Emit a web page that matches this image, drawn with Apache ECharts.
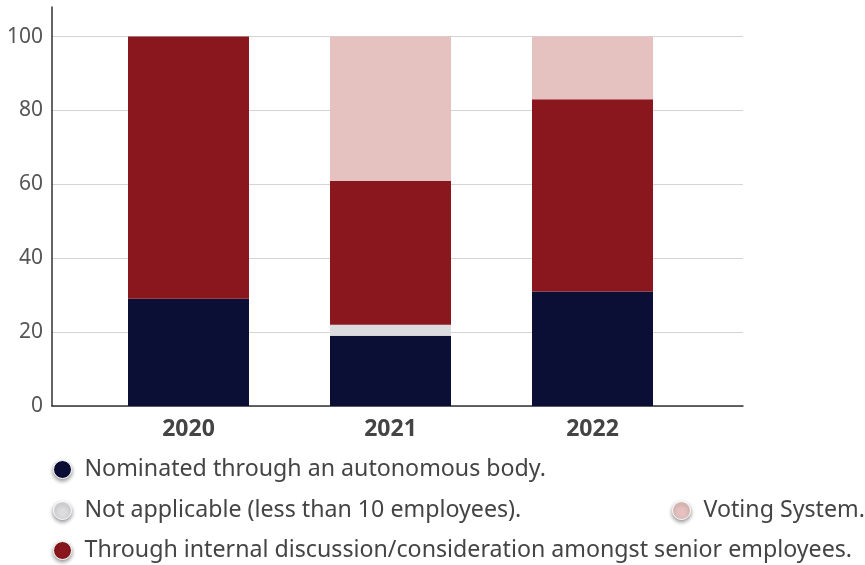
<!DOCTYPE html>
<html>
<head>
<meta charset="utf-8">
<script src="https://cdn.jsdelivr.net/npm/echarts@6/dist/echarts.min.js"></script>
<style>
  html, body { margin: 0; padding: 0; background: #fff; }
  #chart { width: 865px; height: 565px; }
</style>
</head>
<body>
<div id="chart"></div>
<script>
// Board selection method by year (share, %)
const years = ['2020', '2021', '2022'];
const nominated = [29, 19, 31];
const notApplicable = [0, 3, 0];
const internalDiscussion = [71, 39, 52];
const votingSystem = [0, 39, 17];
const yTicks = [0, 20, 40, 60, 80, 100];

const names = {
  nominated: 'Nominated through an autonomous body.',
  notApplicable: 'Not applicable (less than 10 employees).',
  voting: 'Voting System.',
  internal: 'Through internal discussion/consideration amongst senior employees.'
};
const colors = {
  nominated: '#0c0f35',
  notApplicable: '#dcdcde',
  internal: '#8a171d',
  voting: '#e5c2bf'
};

const FONT = '"Noto Sans"';
const yMax = 108;

const legendBase = {
  orient: 'horizontal',
  icon: 'circle',
  itemWidth: 18,
  itemHeight: 18,
  padding: 0,
  selectedMode: false,
  itemStyle: {
    borderColor: '#fff',
    borderWidth: 1,
    shadowBlur: 4,
    shadowOffsetY: 2,
    shadowColor: 'rgba(0,0,0,0.45)'
  },
  textStyle: { fontFamily: FONT, fontSize: 23.2, color: '#444', padding: [0, 0, 0, 8] }
};

const chart = echarts.init(document.getElementById('chart'), null, { renderer: 'canvas' });
chart.setOption({
  animation: false,
  textStyle: { fontFamily: FONT },
  grid: [
    { left: 52, right: 122, top: 7, bottom: 159 },
    { left: 87.5, right: 171.5, top: 7, bottom: 159 }
  ],
  legend: [
    Object.assign({}, legendBase, { left: 53, top: 458, data: [names.nominated] }),
    Object.assign({}, legendBase, { left: 53, top: 499, data: [names.notApplicable] }),
    Object.assign({}, legendBase, { left: 672, top: 499, data: [names.voting] }),
    Object.assign({}, legendBase, { left: 53, top: 539, data: [names.internal] })
  ],
  xAxis: [
    {
      gridIndex: 0, type: 'value', min: 0, max: 1,
      axisLine: { show: true, lineStyle: { color: '#333', width: 1.5 } },
      axisTick: { show: false }, axisLabel: { show: false }, splitLine: { show: false }
    },
    {
      gridIndex: 1, type: 'category', data: years,
      axisLine: { show: false }, axisTick: { show: false },
      axisLabel: { fontFamily: FONT, fontSize: 23, fontWeight: 'bold', color: '#444', margin: 12 }
    }
  ],
  yAxis: [
    {
      gridIndex: 0, type: 'value', min: 0, max: yMax, interval: 20,
      axisLine: { show: true, lineStyle: { color: '#333', width: 1.5 } },
      axisTick: { show: false },
      axisLabel: {
        fontFamily: FONT, fontSize: 21, color: '#555', margin: 9,
        showMaxLabel: false,
        formatter: v => (yTicks.indexOf(v) >= 0 ? String(v) : '')
      },
      splitLine: { show: true, showMaxLine: false, lineStyle: { color: '#d4d4d4', width: 1 } }
    },
    { gridIndex: 1, type: 'value', min: 0, max: yMax, show: false }
  ],
  series: [
    { name: names.nominated, data: nominated, color: colors.nominated },
    { name: names.notApplicable, data: notApplicable, color: colors.notApplicable },
    { name: names.internal, data: internalDiscussion, color: colors.internal },
    { name: names.voting, data: votingSystem, color: colors.voting }
  ].map(s => ({
    type: 'bar', stack: 'total', xAxisIndex: 1, yAxisIndex: 1,
    barWidth: 121, name: s.name, data: s.data,
    itemStyle: { color: s.color }
  }))
});
</script>
</body>
</html>
